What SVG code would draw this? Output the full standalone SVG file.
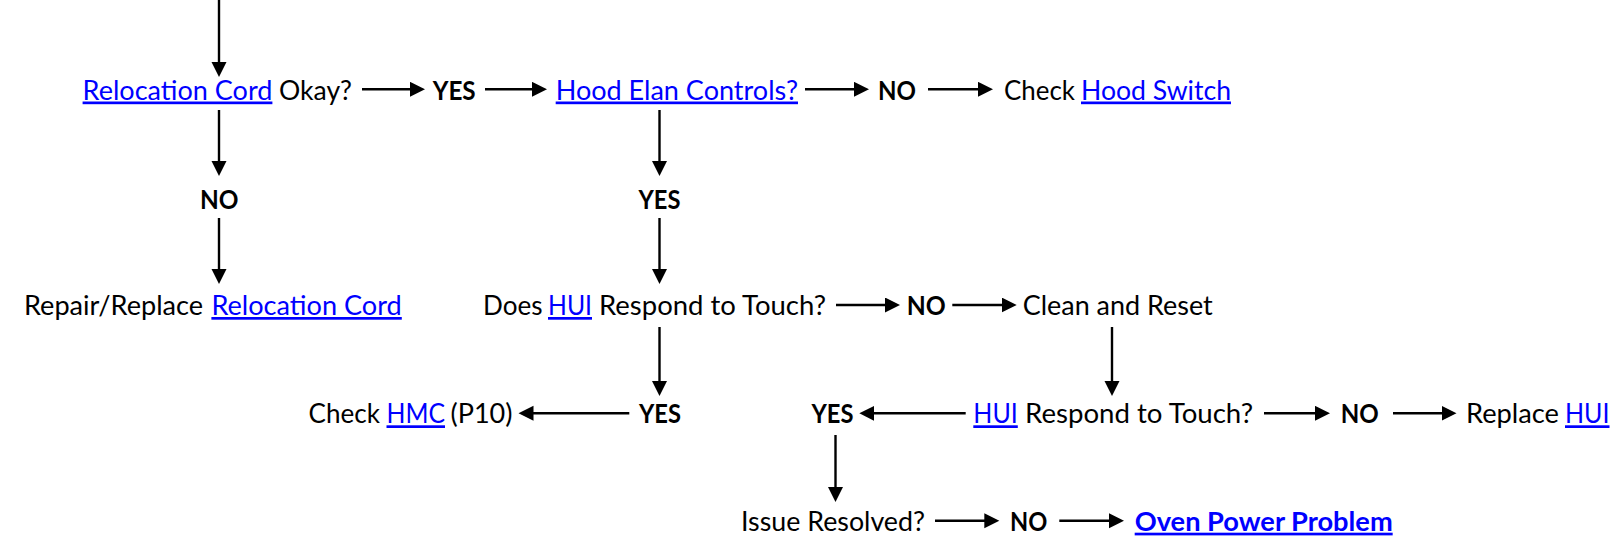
<svg xmlns="http://www.w3.org/2000/svg" width="1614" height="541" viewBox="0 0 1614 541">
  <style>
    text { font-family: Lato, "Open Sans", "Liberation Sans", sans-serif; font-size: 27px; fill: #000; }
    .b { font-weight: bold; }
    .lnk { fill: #0000ff; text-decoration: underline; }
    .cn line { stroke: #000; stroke-width: 2.4; fill: none; }
  </style>
  <defs>
    <marker id="ah" markerUnits="userSpaceOnUse" markerWidth="16" markerHeight="16" refX="7" refY="7.5" orient="auto">
      <path d="M0,0 L15,7.5 L0,15 z" fill="#000"/>
    </marker>
  </defs>
  <rect width="1614" height="541" fill="#fff"/>

  <!-- connectors: each line stops 8px short of its tip; the marker supplies the head -->
  <g id="connectors" class="cn">
    <line x1="219" y1="0" x2="219" y2="69" marker-end="url(#ah)"/>
    <line x1="362" y1="89.3" x2="417" y2="89.3" marker-end="url(#ah)"/>
    <line x1="485" y1="89.3" x2="539" y2="89.3" marker-end="url(#ah)"/>
    <line x1="805" y1="89.3" x2="861" y2="89.3" marker-end="url(#ah)"/>
    <line x1="928" y1="89.3" x2="985" y2="89.3" marker-end="url(#ah)"/>
    <line x1="219" y1="110" x2="219" y2="168" marker-end="url(#ah)"/>
    <line x1="219" y1="218" x2="219" y2="276" marker-end="url(#ah)"/>
    <line x1="659.5" y1="110" x2="659.5" y2="168" marker-end="url(#ah)"/>
    <line x1="659.5" y1="218" x2="659.5" y2="276" marker-end="url(#ah)"/>
    <line x1="836" y1="305" x2="892" y2="305" marker-end="url(#ah)"/>
    <line x1="952.3" y1="305" x2="1008.7" y2="305" marker-end="url(#ah)"/>
    <line x1="659.5" y1="327" x2="659.5" y2="388" marker-end="url(#ah)"/>
    <line x1="1112" y1="327" x2="1112" y2="388" marker-end="url(#ah)"/>
    <line x1="629.3" y1="413.3" x2="526.5" y2="413.3" marker-end="url(#ah)"/>
    <line x1="965.7" y1="413.3" x2="867.3" y2="413.3" marker-end="url(#ah)"/>
    <line x1="1264" y1="413.3" x2="1322" y2="413.3" marker-end="url(#ah)"/>
    <line x1="1393" y1="413.3" x2="1448.5" y2="413.3" marker-end="url(#ah)"/>
    <line x1="835.5" y1="435" x2="835.5" y2="494" marker-end="url(#ah)"/>
    <line x1="935" y1="520.7" x2="991.3" y2="520.7" marker-end="url(#ah)"/>
    <line x1="1059.3" y1="520.7" x2="1116" y2="520.7" marker-end="url(#ah)"/>
  </g>

  <g id="relocation-cord-ok">
    <text class="lnk" x="82.6" y="99.5" textLength="189.8" lengthAdjust="spacingAndGlyphs">Relocation Cord</text>
    <text x="279" y="99.5" textLength="73" lengthAdjust="spacingAndGlyphs">Okay?</text>
  </g>
  <g id="yes-1"><text class="b" x="432.7" y="99.5" textLength="43" lengthAdjust="spacingAndGlyphs">YES</text></g>
  <g id="hood-elan-controls">
    <text class="lnk" x="555.7" y="99.5" textLength="242.3" lengthAdjust="spacingAndGlyphs">Hood Elan Controls?</text>
  </g>
  <g id="no-1"><text class="b" x="878" y="99.5" textLength="38" lengthAdjust="spacingAndGlyphs">NO</text></g>
  <g id="check-hood-switch">
    <text x="1004" y="99.5" textLength="71" lengthAdjust="spacingAndGlyphs">Check</text>
    <text class="lnk" x="1081" y="99.5" textLength="150" lengthAdjust="spacingAndGlyphs">Hood Switch</text>
  </g>

  <g id="no-2"><text class="b" x="200" y="208.5" textLength="38.5" lengthAdjust="spacingAndGlyphs">NO</text></g>
  <g id="yes-2"><text class="b" x="638.5" y="208.5" textLength="42" lengthAdjust="spacingAndGlyphs">YES</text></g>

  <g id="repair-relocation-cord">
    <text x="24" y="315" textLength="179" lengthAdjust="spacingAndGlyphs">Repair/Replace</text>
    <text class="lnk" x="211.4" y="315" textLength="190.4" lengthAdjust="spacingAndGlyphs">Relocation Cord</text>
  </g>
  <g id="hui-respond">
    <text x="483" y="315" textLength="59.5" lengthAdjust="spacingAndGlyphs">Does</text>
    <text class="lnk" x="548" y="315" textLength="44" lengthAdjust="spacingAndGlyphs">HUI</text>
    <text x="599" y="315" textLength="227" lengthAdjust="spacingAndGlyphs">Respond to Touch?</text>
  </g>
  <g id="no-3"><text class="b" x="906.7" y="315" textLength="39" lengthAdjust="spacingAndGlyphs">NO</text></g>
  <g id="clean-reset"><text x="1022.7" y="315" textLength="190" lengthAdjust="spacingAndGlyphs">Clean and Reset</text></g>

  <g id="check-hmc">
    <text x="308.6" y="423.3" textLength="71.3" lengthAdjust="spacingAndGlyphs">Check</text>
    <text class="lnk" x="386.5" y="423.3" textLength="58.5" lengthAdjust="spacingAndGlyphs">HMC</text>
    <text x="450.5" y="423.3" textLength="62" lengthAdjust="spacingAndGlyphs">(P10)</text>
  </g>
  <g id="yes-3"><text class="b" x="639" y="423.3" textLength="42" lengthAdjust="spacingAndGlyphs">YES</text></g>
  <g id="yes-4"><text class="b" x="811.5" y="423.3" textLength="42" lengthAdjust="spacingAndGlyphs">YES</text></g>
  <g id="hui-respond-again">
    <text class="lnk" x="973.3" y="423.3" textLength="44.5" lengthAdjust="spacingAndGlyphs">HUI</text>
    <text x="1025" y="423.3" textLength="228" lengthAdjust="spacingAndGlyphs">Respond to Touch?</text>
  </g>
  <g id="no-4"><text class="b" x="1340.8" y="423.3" textLength="38" lengthAdjust="spacingAndGlyphs">NO</text></g>
  <g id="replace-hui">
    <text x="1466" y="423.3" textLength="93" lengthAdjust="spacingAndGlyphs">Replace</text>
    <text class="lnk" x="1565" y="423.3" textLength="44.5" lengthAdjust="spacingAndGlyphs">HUI</text>
  </g>

  <g id="issue-resolved"><text x="741" y="530.7" textLength="184" lengthAdjust="spacingAndGlyphs">Issue Resolved?</text></g>
  <g id="no-5"><text class="b" x="1010" y="530.7" textLength="37.3" lengthAdjust="spacingAndGlyphs">NO</text></g>
  <g id="oven-power-problem">
    <text class="lnk b" x="1134.7" y="530.7" textLength="258" lengthAdjust="spacingAndGlyphs">Oven Power Problem</text>
  </g>
</svg>
